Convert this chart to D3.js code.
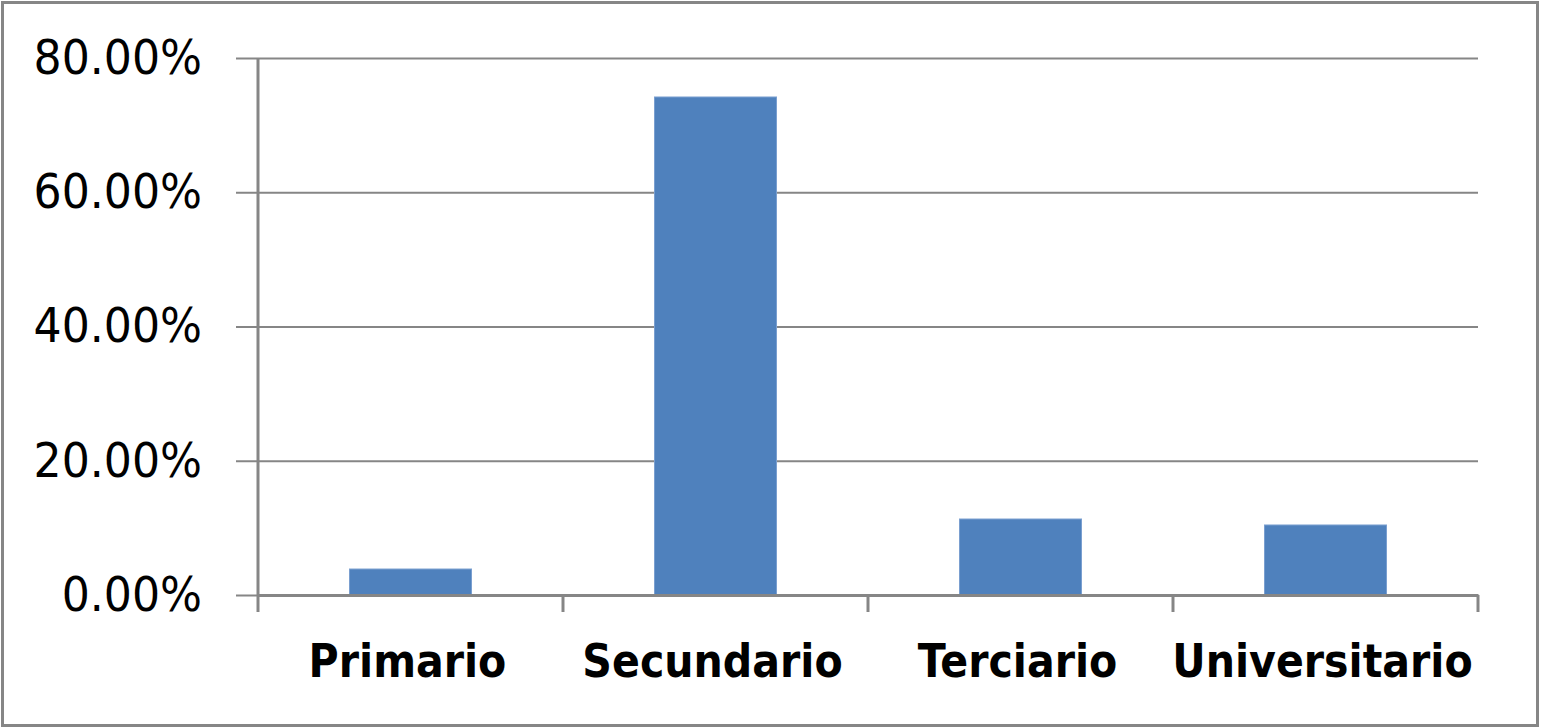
<!DOCTYPE html>
<html><head><meta charset="utf-8">
<script src="https://cdn.jsdelivr.net/npm/d3@7"></script>
<style>body{margin:0;background:#fff}svg{display:block}</style>
</head><body>
<svg id="c" width="1541" height="728"></svg>
<script>
const categories = ["Primario", "Secundario", "Terciario", "Universitario"];
const values = [3.87, 74.19, 11.32, 10.43];
const yTicks = [0, 20, 40, 60, 80];

const svg = d3.select("#c");
const W = 1541, H = 728;
const m = {left: 258, right: 1478, top: 58, bottom: 595};

svg.append("rect").attr("x", 2.5).attr("y", 2.5).attr("width", W - 6).attr("height", H - 5)
  .attr("fill", "#fff").attr("stroke", "#868686").attr("stroke-width", 3);

const x = d3.scaleBand().domain(categories).range([m.left, m.right]).paddingInner(0.6).paddingOuter(0.3);
const y = d3.scaleLinear().domain([0, 80]).range([m.bottom, m.top]);

// gridlines + y axis
const yAxis = d3.axisLeft(y).tickValues(yTicks).tickSize(-(m.right - m.left)).tickPadding(0)
  .tickFormat(d => d3.format(".2f")(d) + "%");
const gy = svg.append("g").attr("transform", `translate(${m.left},0)`).call(yAxis);
gy.select(".domain").remove();
gy.selectAll(".tick line").attr("stroke", "#868686").attr("stroke-width", 2).attr("x1", -22);
gy.selectAll(".tick text").attr("x", -56).attr("dy", "0.32em")
  .attr("font-family", "DejaVu Sans").attr("font-size", 48).attr("fill", "#000")
  .each(function() {
    const w = this.getComputedTextLength();
    d3.select(this).attr("textLength", w * 0.92).attr("lengthAdjust", "spacingAndGlyphs");
  });

// y axis line
svg.append("line").attr("x1", m.left).attr("x2", m.left).attr("y1", m.top).attr("y2", m.bottom)
  .attr("stroke", "#868686").attr("stroke-width", 3);

// bars
svg.selectAll("rect.bar").data(categories).enter().append("rect").attr("class", "bar")
  .attr("x", d => x(d)).attr("width", x.bandwidth())
  .attr("y", (d, i) => y(values[i])).attr("height", (d, i) => y(0) - y(values[i]))
  .attr("fill", "#4F81BD").attr("stroke", "#7A9FD0").attr("stroke-width", 1);

// x axis
const xb = d3.scaleBand().domain(categories).range([m.left, m.right]);
const gx = svg.append("g").attr("transform", `translate(0,${m.bottom})`)
  .call(d3.axisBottom(xb).tickSize(0).tickPadding(0));
gx.select(".domain").attr("stroke", "#868686").attr("stroke-width", 3);
gx.selectAll(".tick text").attr("y", 82).attr("dy", 0).attr("x", -3)
  .attr("font-family", "DejaVu Sans").attr("font-weight", "bold").attr("font-size", 47).attr("fill", "#000")
  .each(function() {
    const w = this.getComputedTextLength();
    d3.select(this).attr("textLength", w * 0.875).attr("lengthAdjust", "spacingAndGlyphs");
  });
const edges = categories.map(c => xb(c)).concat([m.right]);
svg.selectAll("line.xt").data(edges).enter().append("line").attr("class", "xt")
  .attr("x1", d => d).attr("x2", d => d).attr("y1", m.bottom).attr("y2", m.bottom + 17)
  .attr("stroke", "#868686").attr("stroke-width", 3);
</script>
</body></html>
